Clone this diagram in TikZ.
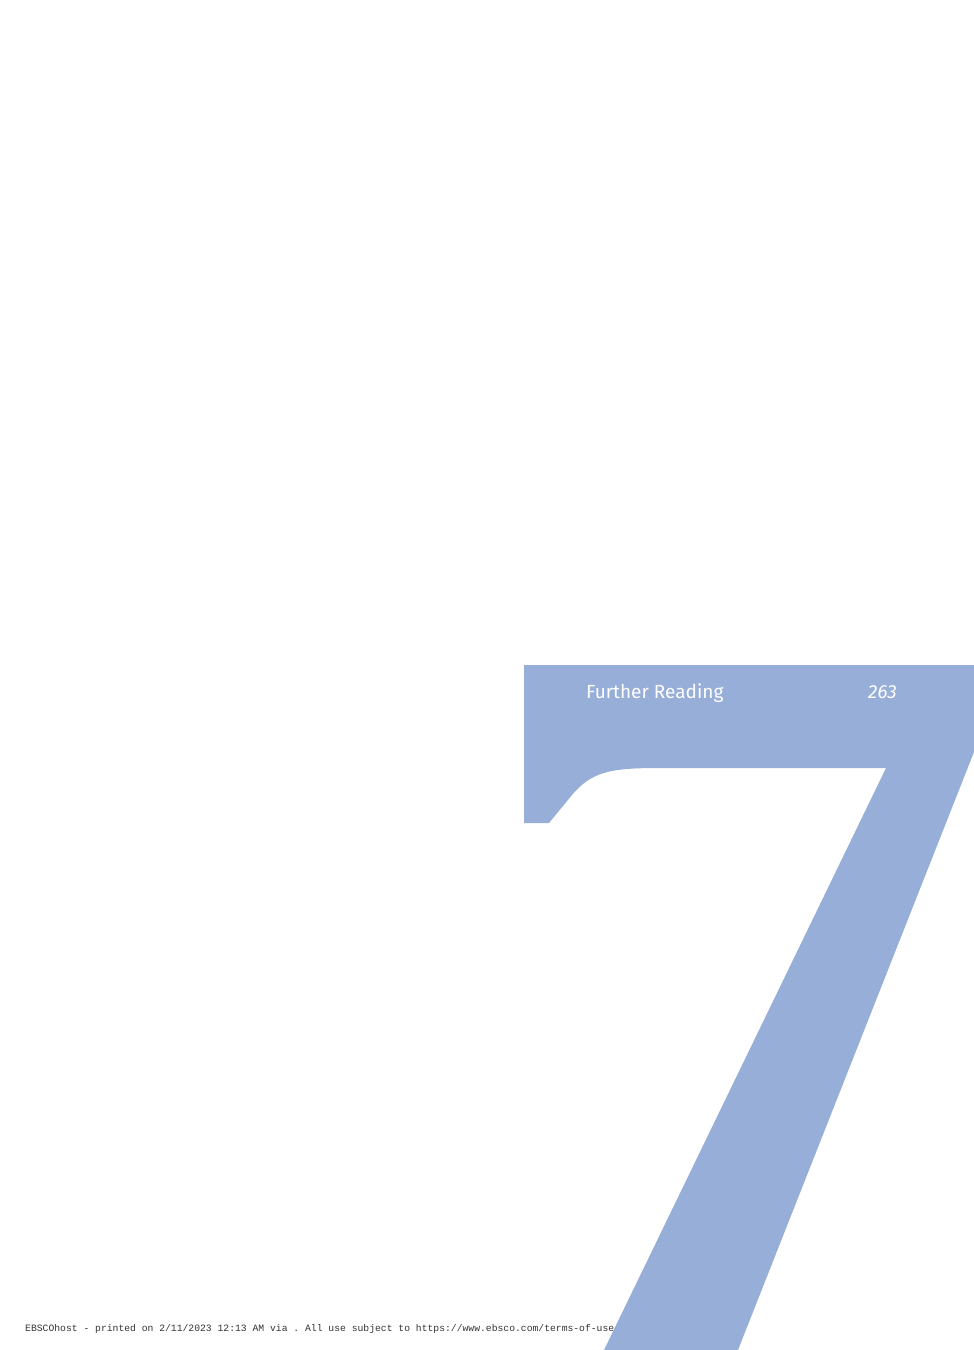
\documentclass[tikz,border=0pt]{standalone}
\usepackage{fontspec}
\setmainfont{Fira Sans}
\setmonofont{Liberation Mono}
\usepackage{xcolor}
\definecolor{chapterblue}{RGB}{151,174,217}

\begin{document}
\begin{tikzpicture}[x = 1pt, y = -1pt, headline/.style = { text = white, inner sep = 0pt, anchor = base west, font = \fontsize{19}{22}\selectfont }, footline/.style = { text = black!80, inner sep = 0pt, anchor = base west, font = \ttfamily\fontsize{9.72}{11}\selectfont }]
				\useasboundingbox (0, 0) rectangle (974, 1350);

				% the big seven
				\fill [chapterblue] (524, 665) -- (974, 665) -- (974, 752) -- (738, 1350) -- (604, 1350) -- (886, 768) -- (660, 768) .. controls (612, 768) and (592, 771) .. (572, 795) -- (549, 823) -- (524, 823) -- cycle;

				\node [headline] (title) at (586, 698) {Further Reading};
				\node [headline, font = \fontsize{19}{22}\selectfont\itshape] (page) at (868, 698) {263};

				\node [footline] (footer) at (25, 1331) {EBSCOhost - printed on 2/11/2023 12:13 AM via . All use subject to https://www.ebsco.com/terms-of-use};
			\end{tikzpicture}
\end{document}
